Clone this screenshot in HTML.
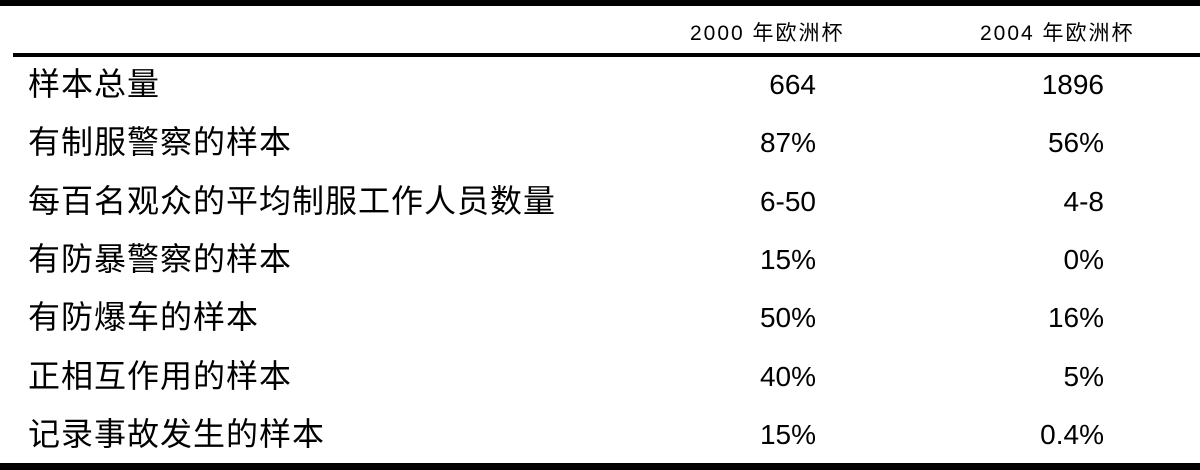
<!DOCTYPE html>
<html><head><meta charset="utf-8"><style>
body{margin:0;width:1200px;height:470px;background:#fff;position:relative;overflow:hidden;font-family:"Liberation Sans","Noto Sans CJK SC",sans-serif;color:#000}
.bar{position:absolute;background:#000}
.t{position:absolute;white-space:nowrap;line-height:1}
.lab{left:28px;font-size:32px;letter-spacing:1px}
.c1{right:384px;font-size:28px}
.c2{right:96px;font-size:28px}
.h{font-size:21px;top:23px;letter-spacing:2px}
</style></head><body>
<div class="bar" style="left:0;top:0;width:1200px;height:6px"></div>
<div class="bar" style="left:13px;top:53px;width:1187px;height:4px"></div>
<div class="bar" style="left:0;top:463px;width:1200px;height:7px"></div>
<div class="t h" style="left:690px">2000 年欧洲杯</div>
<div class="t h" style="left:980px">2004 年欧洲杯</div>
<div id="rows"></div>
<script>
const labels=["样本总量","有制服警察的样本","每百名观众的平均制服工作人员数量","有防暴警察的样本","有防爆车的样本","正相互作用的样本","记录事故发生的样本"];
const v2000=["664","87%","6-50","15%","50%","40%","15%"];
const v2004=["1896","56%","4-8","0%","16%","5%","0.4%"];
const r=document.getElementById('rows');
labels.forEach((l,i)=>{
  const y=68+i*58.3;
  const a=document.createElement('div');a.className='t lab';a.style.top=y+'px';a.textContent=l;
  
  
  r.appendChild(a);
  const b=document.createElement('div');b.className='t c1';b.style.top=(y+3)+'px';b.textContent=v2000[i];
  
  
  r.appendChild(b);
  const c=document.createElement('div');c.className='t c2';c.style.top=(y+3)+'px';c.textContent=v2004[i];
  
  
  r.appendChild(c);
});
</script>
</body></html>
